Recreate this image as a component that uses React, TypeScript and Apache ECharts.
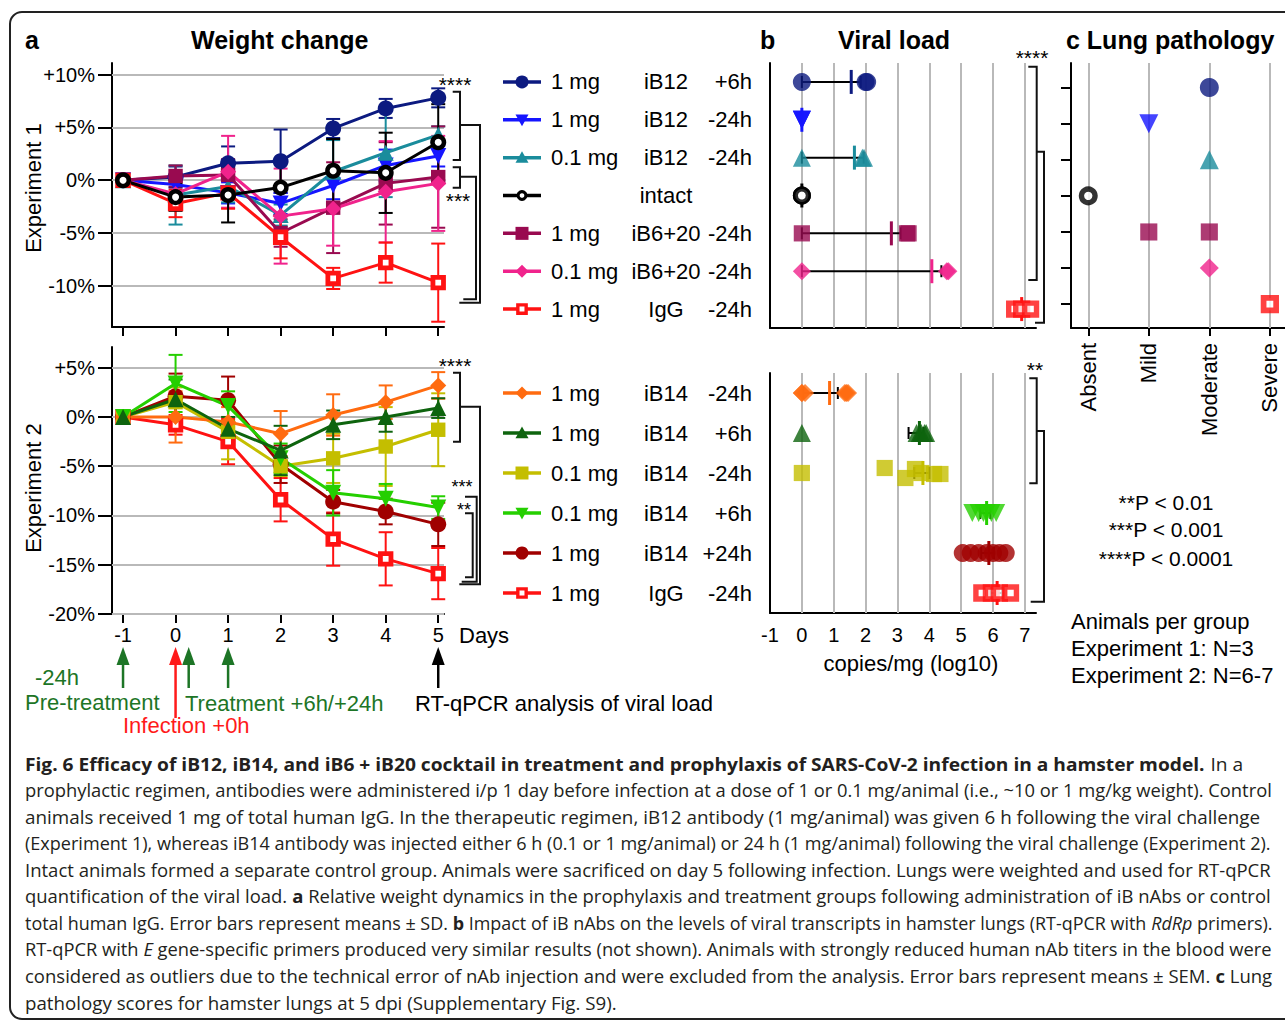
import { useEffect, useRef } from 'react';
import * as echarts from 'echarts';

const FONT = 'Liberation Sans';
const CAP_FONT = 'Open Sans';

// ---------------- data ----------------
const days = [-1, 0, 1, 2, 3, 4, 5];
const dayTicks = [-1, 0, 1, 2, 3, 4, 5];
const weightTicks1 = [-10, -5, 0, 5, 10];
const weightTicks2 = [-20, -15, -10, -5, 0, 5];
const viralTicks = [-1, 0, 1, 2, 3, 4, 5, 6, 7];
const viralGridValues = [0, 1, 2, 3, 4, 5, 6, 7];
const pathologyCategories = ['Absent', 'Mild', 'Moderate', 'Severe'];
const pathologyTicks = [0, 1, 2, 3];

// Experiment 1 groups
const exp1Dose = ['1 mg', '1 mg', '0.1 mg', '', '1 mg', '0.1 mg', '1 mg'];
const exp1Antibody = ['iB12', 'iB12', 'iB12', 'intact', 'iB6+20', 'iB6+20', 'IgG'];
const exp1Time = ['+6h', '-24h', '-24h', '', '-24h', '-24h', '-24h'];
const exp1Color = ['#0c1a80', '#1515ff', '#1a8c9c', '#000000', '#990a50', '#f0238c', '#ff1212'];
const exp1Symbol = ['circle', 'down', 'up', 'ring', 'rect', 'diamond', 'openrect'];

// weight change (%) days -1..5, mean and SD
const exp1WeightMean = [
  [0, 0.3, 1.6, 1.8, 4.9, 6.8, 7.8],
  [0, -0.4, -1.2, -2.2, -0.5, 1.4, 2.3],
  [0, -1.4, -0.6, -3.3, 0.8, 2.6, 4.3],
  [0, -1.6, -1.4, -0.7, 0.9, 0.7, 3.6],
  [0, 0.4, 0.5, -5.0, -2.6, -0.3, 0.3],
  [0, -1.3, 0.8, -3.4, -2.7, -1.1, -0.3],
  [0, -2.2, -1.2, -5.4, -9.3, -7.8, -9.7],
];
const exp1WeightSD = [
  [0, 1.0, 1.6, 3.0, 0.9, 0.9, 0.9],
  [0, 0.8, 1.0, 1.0, 1.3, 1.5, 1.0],
  [0, 2.8, 1.5, 1.0, 3.0, 4.2, 0.8],
  [0, 1.3, 2.6, 2.6, 3.0, 3.8, 3.6],
  [0, 1.0, 1.5, 1.3, 4.3, 3.9, 4.8],
  [0, 1.2, 3.4, 4.5, 3.5, 4.8, 4.5],
  [0, 1.3, 1.5, 2.0, 1.0, 1.9, 3.7],
];

// viral load (log10 copies/mg)
const exp1ViralPoints = [
  [0, 2.0, 2.05],
  [0, 0, 0],
  [0, 1.9, 1.95],
  [0, 0, 0],
  [0, 3.3, 3.35],
  [0, 4.55, 4.6],
  [6.68, 6.9, 7.18],
];
const exp1ViralMean = [1.55, 0, 1.65, 0, 2.81, 4.08, 6.9];
const exp1ViralLow = [0, 0, 0, 0, 0, 0, 6.8];
const exp1ViralHigh = [1.85, 0, 1.94, 0, 3.11, 4.38, 7.0];

// lung pathology score index per group
const pathologyScores = [[2], [1], [2], [0], [1, 2], [2], [3]];

// Experiment 2 groups
const exp2Dose = ['1 mg', '1 mg', '0.1 mg', '0.1 mg', '1 mg', '1 mg'];
const exp2Antibody = ['iB14', 'iB14', 'iB14', 'iB14', 'iB14', 'IgG'];
const exp2Time = ['-24h', '+6h', '-24h', '+6h', '+24h', '-24h'];
const exp2Color = ['#ff6b10', '#0e640e', '#c4be00', '#25cf00', '#a00000', '#ff1212'];
const exp2Symbol = ['diamond', 'up', 'rect', 'down', 'circle', 'openrect'];

const exp2WeightMean = [
  [0, 0, -0.5, -1.7, 0.2, 1.5, 3.2],
  [0, 1.8, -1.2, -3.4, -0.8, 0, 0.9],
  [0, 1.5, -1.5, -5.0, -4.2, -3.0, -1.3],
  [0, 3.4, 1.1, -4.2, -7.7, -8.3, -9.2],
  [0, 2.1, 1.7, -4.8, -8.6, -9.6, -10.9],
  [0, -0.8, -2.5, -8.4, -12.4, -14.4, -15.9],
];
const exp2WeightSD = [
  [0, 2.6, 1.5, 2.3, 2.1, 1.7, 1.35],
  [0, 2.0, 1.2, 2.5, 1.45, 1.5, 1.0],
  [0, 1.5, 2.8, 1.0, 2.5, 4.0, 3.7],
  [0, 2.9, 1.5, 1.5, 2.3, 1.5, 1.15],
  [0, 2.3, 2.4, 1.9, 1.2, 1.3, 2.2],
  [0, 1.0, 2.3, 2.2, 2.7, 2.7, 2.6],
];

const exp2ViralPoints = [
  [0, 0, 0.1, 1.35, 1.4, 1.45],
  [0, 3.6, 3.7, 3.75, 3.85, 3.9],
  [0, 2.6, 3.25, 3.55, 3.75, 4.15, 4.35],
  [5.35, 5.55, 5.7, 5.8, 5.95, 6.1],
  [5.05, 5.3, 5.55, 5.8, 6.0, 6.2, 6.4],
  [5.65, 5.95, 6.2, 6.55],
];
const oliveJitter = [0, -5, 5, -4, 0, 1, 1];
const exp2ViralMean = [0.87, 3.69, 3.8, 5.8, 5.87, 6.13];
const exp2ViralLow = [0.05, 3.35, 3.53, 5.6, 5.63, 5.92];
const exp2ViralHigh = [1.13, 3.82, 4.0, 5.92, 6.03, 6.29];

// caption
const captionLines: [string, string][][] = [
  [['b', 'Fig. 6 Efficacy of iB12, iB14, and iB6 + iB20 cocktail in treatment and prophylaxis of SARS-CoV-2 infection in a hamster model. '], ['n', 'In a']],
  [['n', 'prophylactic regimen, antibodies were administered i/p 1 day before infection at a dose of 1 or 0.1 mg/animal (i.e., ~10 or 1 mg/kg weight). Control']],
  [['n', 'animals received 1 mg of total human IgG. In the therapeutic regimen, iB12 antibody (1 mg/animal) was given 6 h following the viral challenge']],
  [['n', '(Experiment 1), whereas iB14 antibody was injected either 6 h (0.1 or 1 mg/animal) or 24 h (1 mg/animal) following the viral challenge (Experiment 2).']],
  [['n', 'Intact animals formed a separate control group. Animals were sacrificed on day 5 following infection. Lungs were weighted and used for RT-qPCR']],
  [['n', 'quantification of the viral load. '], ['b', 'a '], ['n', 'Relative weight dynamics in the prophylaxis and treatment groups following administration of iB nAbs or control']],
  [['n', 'total human IgG. Error bars represent means ± SD. '], ['b', 'b '], ['n', 'Impact of iB nAbs on the levels of viral transcripts in hamster lungs (RT-qPCR with '], ['i', 'RdRp '], ['n', 'primers).']],
  [['n', 'RT-qPCR with '], ['i', 'E '], ['n', 'gene-specific primers produced very similar results (not shown). Animals with strongly reduced human nAb titers in the blood were']],
  [['n', 'considered as outliers due to the technical error of nAb injection and were excluded from the analysis. Error bars represent means ± SEM. '], ['b', 'c '], ['n', 'Lung']],
  [['n', 'pathology scores for hamster lungs at 5 dpi (Supplementary Fig. S9).']],
];
const captionEnds = [1243, 1272, 1262, 1272, 1272, 1272, 1272, 1272, 1272, 617];

// ---------------- layout ----------------
const G = {
  a1: { left: 112, top: 63, width: 332, height: 264 },
  a2: { left: 112, top: 347, width: 332, height: 267 },
  b1: { left: 770, top: 63, width: 266, height: 265 },
  b2: { left: 770, top: 373, width: 266, height: 240 },
  c: { left: 1071, top: 63, width: 214, height: 265 },
};
const A_XMIN = -1.21, A_XMAX = 5.11;
const GREEN = '#1d7526';
const RED = '#ff1a1a';
const GRIDCOL = '#b9b9b9';

function sym(kind: string, size: number, color: string): any {
  switch (kind) {
    case 'circle': return { symbol: 'circle', symbolSize: size, itemStyle: { color } };
    case 'down': return { symbol: 'triangle', symbolSize: size, symbolRotate: 180, itemStyle: { color } };
    case 'up': return { symbol: 'triangle', symbolSize: size, itemStyle: { color } };
    case 'ring': return { symbol: 'circle', symbolSize: size * 0.72, itemStyle: { color: '#fff', borderColor: color, borderWidth: size * 0.28 } };
    case 'rect': return { symbol: 'rect', symbolSize: size * 0.9, itemStyle: { color } };
    case 'diamond': return { symbol: 'diamond', symbolSize: size, itemStyle: { color } };
    default: return { symbol: 'rect', symbolSize: size * 0.66, itemStyle: { color: '#fff', borderColor: color, borderWidth: size * 0.3 } };
  }
}

function legendSymbol(kind: string, cx: number, cy: number, s: number, color: string): any {
  const h = s / 2;
  switch (kind) {
    case 'circle': return { type: 'circle', shape: { cx, cy, r: h }, style: { fill: color } };
    case 'down': return { type: 'polygon', shape: { points: [[cx - h, cy - h * 0.8], [cx + h, cy - h * 0.8], [cx, cy + h]] }, style: { fill: color } };
    case 'up': return { type: 'polygon', shape: { points: [[cx - h, cy + h * 0.8], [cx + h, cy + h * 0.8], [cx, cy - h]] }, style: { fill: color } };
    case 'ring': return { type: 'circle', shape: { cx, cy, r: s * 0.3 }, style: { fill: '#fff', stroke: color, lineWidth: s * 0.24 } };
    case 'rect': return { type: 'rect', shape: { x: cx - h, y: cy - h, width: s, height: s }, style: { fill: color } };
    case 'diamond': return { type: 'polygon', shape: { points: [[cx, cy - h], [cx + h, cy], [cx, cy + h], [cx - h, cy]] }, style: { fill: color } };
    default: return { type: 'rect', shape: { x: cx - s * 0.32, y: cy - s * 0.32, width: s * 0.64, height: s * 0.64 }, style: { fill: '#fff', stroke: color, lineWidth: s * 0.26 } };
  }
}

const errRender = (color: string) => (_p: any, api: any) => {
  const x = api.value(0), lo = api.value(1), hi = api.value(2);
  const a = api.coord([x, lo]), b = api.coord([x, hi]);
  const st = { stroke: color, lineWidth: 2 };
  const cap = 7;
  return {
    type: 'group', children: [
      { type: 'line', shape: { x1: a[0], y1: a[1], x2: b[0], y2: b[1] }, style: st },
      { type: 'line', shape: { x1: a[0] - cap, y1: a[1], x2: a[0] + cap, y2: a[1] }, style: st },
      { type: 'line', shape: { x1: b[0] - cap, y1: b[1], x2: b[0] + cap, y2: b[1] }, style: st },
    ],
  };
};

const viralRender = (color: string) => (_p: any, api: any) => {
  const lo = api.value(0), hi = api.value(1), m = api.value(2), c = api.value(3);
  const pl = api.coord([lo, c]), ph = api.coord([hi, c]), pm = api.coord([m, c]);
  const k = { stroke: '#000', lineWidth: 2 };
  const ch: any[] = [];
  if (hi > lo) {
    ch.push({ type: 'line', shape: { x1: pl[0], y1: pl[1], x2: ph[0], y2: ph[1] }, style: k });
    ch.push({ type: 'line', shape: { x1: pl[0], y1: pl[1] - 6, x2: pl[0], y2: pl[1] + 6 }, style: k });
    ch.push({ type: 'line', shape: { x1: ph[0], y1: ph[1] - 6, x2: ph[0], y2: ph[1] + 6 }, style: k });
  }
  ch.push({ type: 'line', shape: { x1: pm[0], y1: pm[1] - 12, x2: pm[0], y2: pm[1] + 12 }, style: { stroke: color, lineWidth: 3 } });
  return { type: 'group', children: ch };
};

const axisLine = { show: true, onZero: false, lineStyle: { color: '#000', width: 2 } };
const tickStyle = { color: '#000', width: 2 };
const pct = (v: number) => (v > 0 ? `+${v}%` : `${v}%`);

function gridLines(xi: number, key: 'xAxis' | 'yAxis', values: number[]) {
  return {
    type: 'scatter', xAxisIndex: xi, yAxisIndex: xi, data: [], silent: true, z: 1,
    markLine: {
      silent: true, z: 1, symbol: ['none', 'none'], label: { show: false },
      emphasis: { disabled: true },
      lineStyle: { color: GRIDCOL, width: 2, type: 'solid' },
      data: values.map((v) => ({ [key]: v })),
    },
  };
}

function buildOption() {
  const series: any[] = [];
  series.push(gridLines(0, 'yAxis', weightTicks1));
  series.push(gridLines(1, 'yAxis', weightTicks2));
  series.push(gridLines(2, 'xAxis', viralGridValues));
  series.push(gridLines(3, 'xAxis', viralGridValues));
  series.push(gridLines(4, 'xAxis', pathologyTicks));

  const addWeight = (axis: number, g: number, mean: number[][], sd: number[][], color: string[], symbols: string[]) => {
    series.push({
      type: 'custom', xAxisIndex: axis, yAxisIndex: axis, silent: true,
      renderItem: errRender(color[g]),
      encode: { x: 0, y: [1, 2] },
      data: days.map((d, i) => [d, mean[g][i] - sd[g][i], mean[g][i] + sd[g][i]]).filter((_, i) => sd[g][i] > 0),
    });
    series.push({
      type: 'line', xAxisIndex: axis, yAxisIndex: axis, silent: true,
      data: days.map((d, i) => [d, mean[g][i]]),
      lineStyle: { color: color[g], width: 3 },
      ...sym(symbols[g], 16, color[g]),
    });
  };
  [0, 1, 2, 4, 5, 6, 3].forEach((g) => addWeight(0, g, exp1WeightMean, exp1WeightSD, exp1Color, exp1Symbol));
  [5, 4, 2, 0, 3, 1].forEach((g) => addWeight(1, g, exp2WeightMean, exp2WeightSD, exp2Color, exp2Symbol));

  const addViral = (axis: number, g: number, pts: number[][], mean: number[], lo: number[], hi: number[], color: string[], symbols: string[], jitter?: number[]) => {
    series.push({
      type: 'scatter', xAxisIndex: axis, yAxisIndex: axis, silent: true,
      ...sym(symbols[g], 18, color[g]),
      data: pts[g].map((v, i) => (jitter ? { value: [v, g], symbolOffset: [0, jitter[i] || 0] } : [v, g])),
    });
    series.push({
      type: 'custom', xAxisIndex: axis, yAxisIndex: axis, silent: true,
      renderItem: viralRender(color[g]),
      encode: { x: [0, 1, 2], y: 3 },
      data: [[lo[g], hi[g], mean[g], g]],
    });
  };
  exp1Color.forEach((_, g) => addViral(2, g, exp1ViralPoints, exp1ViralMean, exp1ViralLow, exp1ViralHigh, exp1Color, exp1Symbol));
  exp2Color.forEach((_, g) => addViral(3, g, exp2ViralPoints, exp2ViralMean, exp2ViralLow, exp2ViralHigh, exp2Color, exp2Symbol, g === 2 ? oliveJitter : undefined));

  exp1Color.forEach((c, g) => {
    series.push({
      type: 'scatter', xAxisIndex: 4, yAxisIndex: 4, silent: true,
      ...sym(exp1Symbol[g], 19, c),
      data: pathologyScores[g].map((s) => [s, g]),
    });
  });

  // ---------------- graphics ----------------
  const el: any[] = [];
  const txt = (text: string, x: number, y: number, o: any = {}) => ({
    type: 'text', x, y, silent: true, rotation: o.rotation || 0,
    style: {
      text, fill: o.color || '#000', fontFamily: o.family || FONT, fontSize: o.size || 22,
      fontWeight: o.weight || 'normal', align: o.align || 'left', verticalAlign: 'middle',
    },
  });
  const poly = (pts: number[][]) => ({ type: 'polyline', silent: true, shape: { points: pts }, style: { stroke: '#111', lineWidth: 2, fill: 'none' } });

  el.push({ type: 'rect', silent: true, shape: { x: 10, y: 12, width: 1300, height: 1007, r: 12 }, style: { fill: 'none', stroke: '#222', lineWidth: 2 } });

  // headers
  el.push(txt('a', 25, 40, { weight: 'bold', size: 25 }));
  el.push(txt('Weight change', 191, 40, { weight: 'bold', size: 25 }));
  el.push(txt('b', 760, 40, { weight: 'bold', size: 25 }));
  el.push(txt('Viral load', 838, 40, { weight: 'bold', size: 25 }));
  el.push(txt('c Lung pathology', 1066, 40, { weight: 'bold', size: 25 }));

  // axis names
  el.push(txt('Experiment 1', 33, 188, { align: 'center', rotation: Math.PI / 2 }));
  el.push(txt('Experiment 2', 33, 488, { align: 'center', rotation: Math.PI / 2 }));
  el.push(txt('Days', 459, 635, {}));
  el.push(txt('copies/mg (log10)', 911, 663, { align: 'center' }));

  // legends
  const legend = (gi: 'b1' | 'b2', dose: string[], ab: string[], time: string[], color: string[], symbols: string[]) => {
    const g = G[gi];
    dose.forEach((_, i) => {
      const y = g.top + ((i + 0.5) * g.height) / dose.length;
      el.push({ type: 'line', silent: true, shape: { x1: 503, y1: y, x2: 541, y2: y }, style: { stroke: color[i], lineWidth: 3.5 } });
      el.push({ ...legendSymbol(symbols[i], 522, y, 13, color[i]), silent: true });
      if (dose[i]) el.push(txt(dose[i], 551, y));
      el.push(txt(ab[i], 666, y, { align: 'center' }));
      if (time[i]) el.push(txt(time[i], 752, y, { align: 'right' }));
    });
  };
  legend('b1', exp1Dose, exp1Antibody, exp1Time, exp1Color, exp1Symbol);
  legend('b2', exp2Dose, exp2Antibody, exp2Time, exp2Color, exp2Symbol);

  // significance brackets
  [
    [[452.7, 91.7], [460, 91.7], [460, 160], [452.7, 160]],
    [[460, 125], [480, 125], [480, 302.7], [459.3, 302.7]],
    [[452.7, 167.3], [460, 167.3], [460, 187.7], [452.7, 187.7]],
    [[460, 176.7], [476, 176.7], [476, 299.3], [463.3, 299.3]],
    [[453, 372.7], [460, 372.7], [460, 441.7], [453, 441.7]],
    [[460, 406.7], [480, 406.7], [480, 584.3], [459.3, 584.3]],
    [[465, 496.7], [476.7, 496.7], [476.7, 581.7], [461.7, 581.7]],
    [[465, 513.3], [472.7, 513.3], [472.7, 577.3], [465, 577.3]],
    [[1028.3, 66.7], [1036.7, 66.7], [1036.7, 280], [1028.3, 280]],
    [[1036.7, 151.7], [1044, 151.7], [1044, 322.7], [1035, 322.7]],
    [[1029.3, 378.3], [1036.7, 378.3], [1036.7, 483.3], [1029.3, 483.3]],
    [[1036.7, 431], [1044, 431], [1044, 601.7], [1030.7, 601.7]],
  ].forEach((p) => el.push(poly(p)));
  el.push(txt('****', 455, 84, { align: 'center', size: 21 }));
  el.push(txt('***', 458, 200, { align: 'center', size: 21 }));
  el.push(txt('****', 455, 365, { align: 'center', size: 21 }));
  el.push(txt('***', 462, 487, { align: 'center', size: 18 }));
  el.push(txt('**', 464, 510, { align: 'center', size: 18 }));
  el.push(txt('****', 1032, 57, { align: 'center', size: 21 }));
  el.push(txt('**', 1035, 369, { align: 'center', size: 21 }));

  // stats
  el.push(txt('**P < 0.01', 1166, 502, { align: 'center', size: 21 }));
  el.push(txt('***P < 0.001', 1166, 529, { align: 'center', size: 21 }));
  el.push(txt('****P < 0.0001', 1166, 558, { align: 'center', size: 21 }));
  el.push(txt('Animals per group', 1071, 621));
  el.push(txt('Experiment 1: N=3', 1071, 648));
  el.push(txt('Experiment 2: N=6-7', 1071, 675));

  // timeline arrows
  const dayToX = (d: number) => G.a1.left + ((d - A_XMIN) / (A_XMAX - A_XMIN)) * G.a1.width;
  [
    { day: -1, color: GREEN, end: 688 },
    { day: 0, color: RED, end: 718 },
    { day: 0.25, color: GREEN, end: 688 },
    { day: 1, color: GREEN, end: 688 },
    { day: 5, color: '#000', end: 688 },
  ].forEach((a) => {
    const x = dayToX(a.day);
    el.push({ type: 'line', silent: true, shape: { x1: x, y1: 660, x2: x, y2: a.end }, style: { stroke: a.color, lineWidth: 2.5 } });
    el.push({ type: 'polygon', silent: true, shape: { points: [[x, 647], [x + 6.5, 665], [x - 6.5, 665]] }, style: { fill: a.color } });
  });
  el.push(txt('-24h', 35, 677, { color: GREEN }));
  el.push(txt('Pre-treatment', 25, 702, { color: GREEN }));
  el.push(txt('Infection +0h', 123, 725, { color: RED }));
  el.push(txt('Treatment +6h/+24h', 185, 703, { color: GREEN }));
  el.push(txt('RT-qPCR analysis of viral load', 415, 703, {}));

  // caption
  const ctx = document.createElement('canvas').getContext('2d') as CanvasRenderingContext2D;
  const fontOf = (k: string) => `${k === 'i' ? 'italic ' : ''}${k === 'b' ? 'bold ' : ''}18px "${CAP_FONT}"`;
  const capColor = '#231f20';
  const rich = {
    n: { fontFamily: CAP_FONT, fontSize: 18, fill: capColor, color: capColor },
    b: { fontFamily: CAP_FONT, fontSize: 18, fontWeight: 'bold', fill: capColor, color: capColor },
    i: { fontFamily: CAP_FONT, fontSize: 18, fontStyle: 'italic', fill: capColor, color: capColor },
  };
  captionLines.forEach((segs, i) => {
    let natural = 0;
    segs.forEach(([k, t]) => { ctx.font = fontOf(k); natural += ctx.measureText(t).width; });
    const sx = (captionEnds[i] - 25) / natural;
    el.push({
      type: 'text', x: 25, y: 764 + i * 26.5, scaleX: sx, silent: true,
      style: {
        text: segs.map(([k, t]) => `{${k}|${t}}`).join(''), rich,
        fontFamily: CAP_FONT, fontSize: 18, fill: capColor, align: 'left', verticalAlign: 'middle',
      },
    });
  });

  return {
    animation: false,
    backgroundColor: '#fff',
    textStyle: { fontFamily: FONT, color: '#000' },
    grid: [G.a1, G.a2, G.b1, G.b2, G.c],
    xAxis: [
      { gridIndex: 0, type: 'value', min: A_XMIN, max: A_XMAX, axisLine, axisTick: { customValues: dayTicks, length: 9, lineStyle: tickStyle }, axisLabel: { show: false }, splitLine: { show: false } },
      { gridIndex: 1, type: 'value', min: A_XMIN, max: A_XMAX, axisLine, axisTick: { customValues: dayTicks, length: 9, lineStyle: tickStyle }, axisLabel: { customValues: dayTicks, fontSize: 20, color: '#000', margin: 11 }, splitLine: { show: false } },
      { gridIndex: 2, type: 'value', min: -1, max: 7.35, axisLine, axisTick: { customValues: viralTicks, length: 8, lineStyle: tickStyle }, axisLabel: { show: false }, splitLine: { show: false } },
      { gridIndex: 3, type: 'value', min: -1, max: 7.35, axisLine, axisTick: { customValues: viralTicks, length: 8, lineStyle: tickStyle }, axisLabel: { customValues: viralTicks, fontSize: 20, color: '#000', margin: 12 }, splitLine: { show: false } },
      { gridIndex: 4, type: 'value', min: -0.285, max: 3.25, axisLine, axisTick: { customValues: pathologyTicks, length: 8, lineStyle: tickStyle }, axisLabel: { customValues: pathologyTicks, rotate: 90, fontSize: 22, color: '#000', margin: 15, formatter: (v: number) => pathologyCategories[Math.round(v)] }, splitLine: { show: false } },
    ],
    yAxis: [
      { gridIndex: 0, type: 'value', min: -13.9, max: 11.1, axisLine, axisTick: { customValues: weightTicks1, length: 14, lineStyle: tickStyle }, axisLabel: { customValues: weightTicks1, formatter: pct, fontSize: 20, color: '#000', margin: 17 }, splitLine: { show: false } },
      { gridIndex: 1, type: 'value', min: -20, max: 7.1, axisLine, axisTick: { customValues: weightTicks2, length: 14, lineStyle: tickStyle }, axisLabel: { customValues: weightTicks2, formatter: pct, fontSize: 20, color: '#000', margin: 17 }, splitLine: { show: false } },
      { gridIndex: 2, type: 'category', inverse: true, data: exp1Antibody.map((a, i) => `${exp1Dose[i]} ${a} ${exp1Time[i]}`), axisLine, axisTick: { alignWithLabel: true, length: 10, lineStyle: tickStyle }, axisLabel: { show: false }, splitLine: { show: false } },
      { gridIndex: 3, type: 'category', inverse: true, data: exp2Antibody.map((a, i) => `${exp2Dose[i]} ${a} ${exp2Time[i]}`), axisLine, axisTick: { alignWithLabel: true, length: 10, lineStyle: tickStyle }, axisLabel: { show: false }, splitLine: { show: false } },
      { gridIndex: 4, type: 'value', inverse: true, min: -0.68, max: 6.66, axisLine, axisTick: { customValues: [0, 1, 2, 3, 4, 5, 6], length: 10, lineStyle: tickStyle }, axisLabel: { show: false }, splitLine: { show: false } },
    ],
    series,
    graphic: { elements: el },
  };
}

export default function App() {
  const ref = useRef<HTMLDivElement>(null);
  useEffect(() => {
    const chart = echarts.init(ref.current as HTMLDivElement, undefined, { renderer: 'svg' });
    chart.setOption(buildOption() as any);
    return () => chart.dispose();
  }, []);
  return <div ref={ref} style={{ position: 'absolute', left: 0, top: 0, width: 1285, height: 1025, background: '#fff' }} />;
}
